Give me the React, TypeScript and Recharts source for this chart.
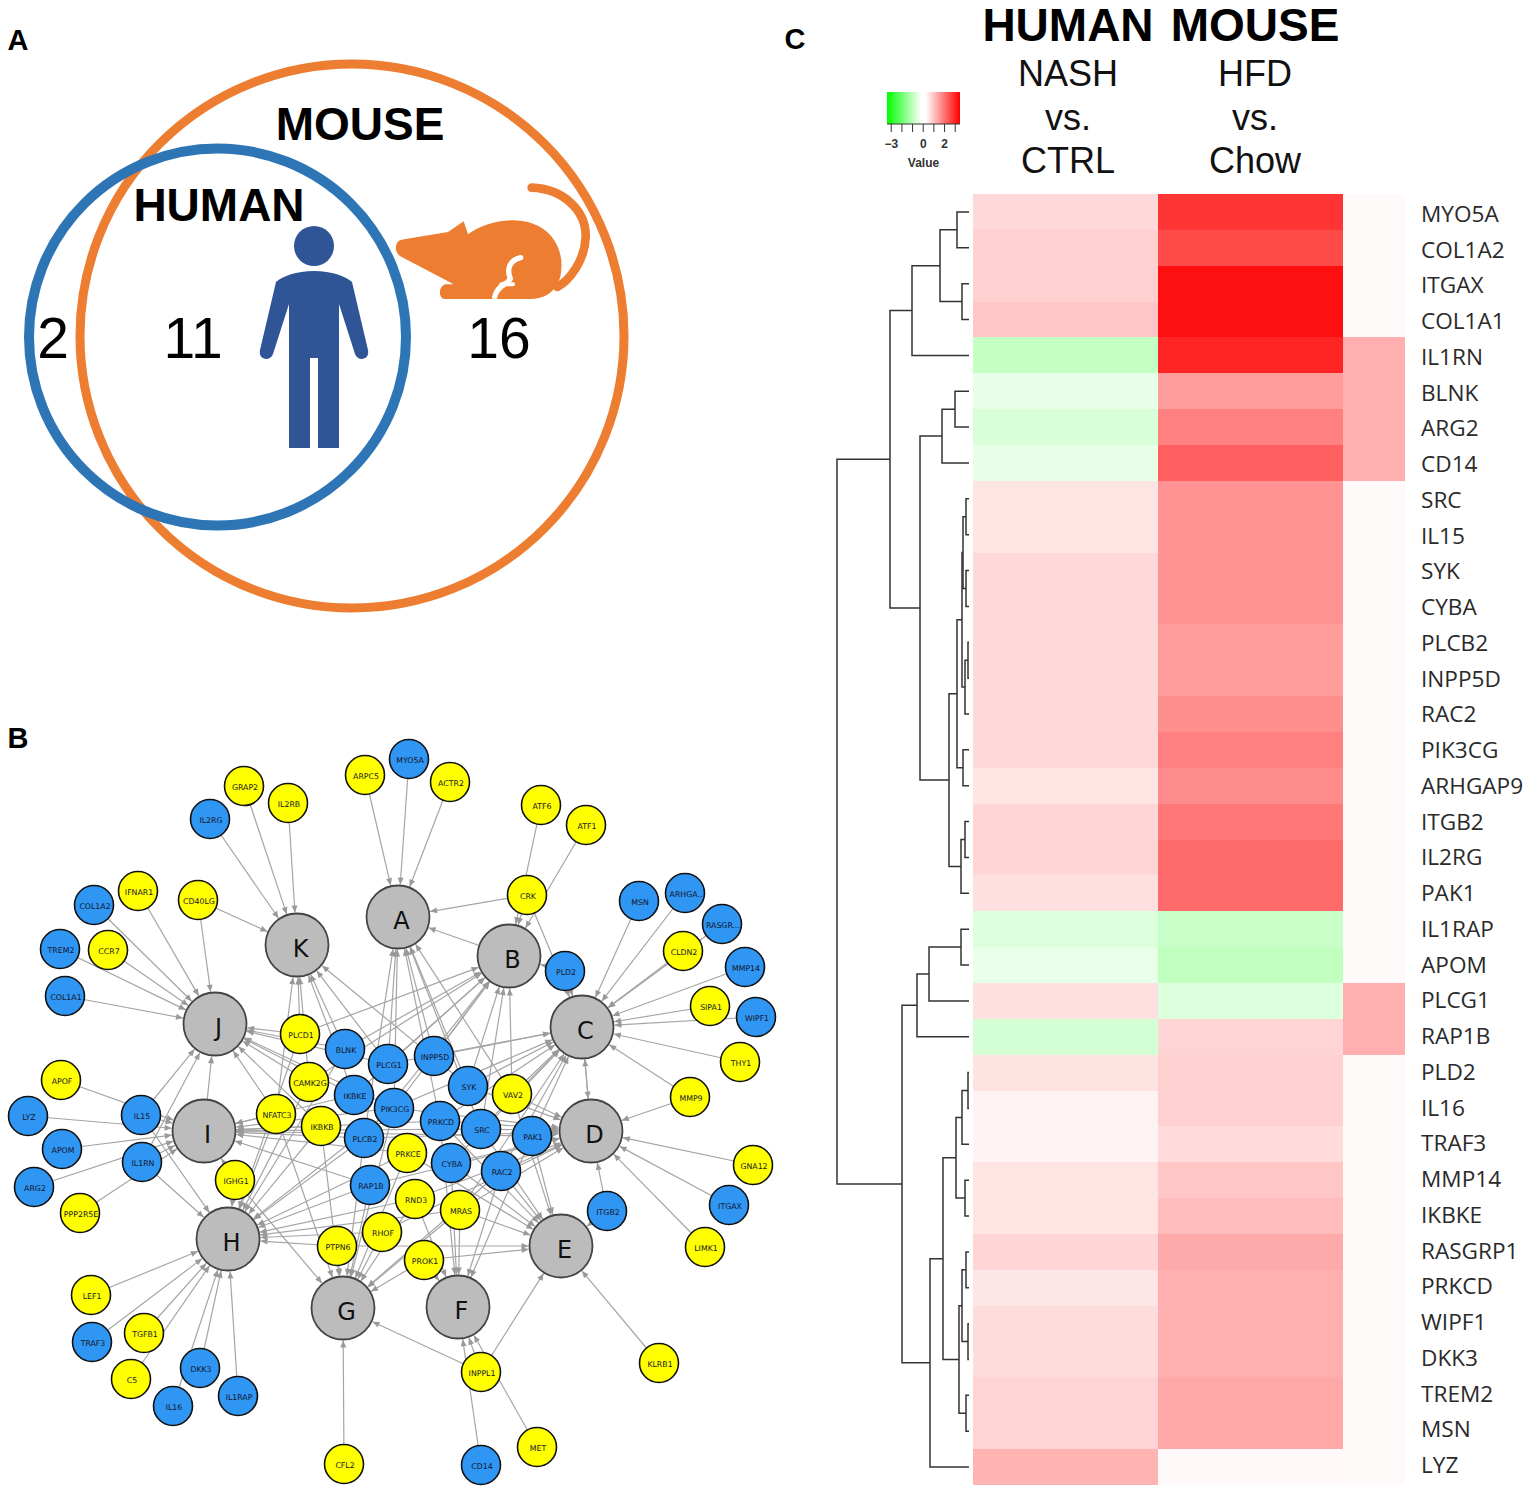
import { Bar, BarChart, Cell, Scatter, ScatterChart, XAxis, YAxis } from "recharts";

// panel C rows, in heatmap order
const genes = [
  "MYO5A", "COL1A2", "ITGAX", "COL1A1", "IL1RN", "BLNK", "ARG2", "CD14", "SRC", "IL15", "SYK", "CYBA",
  "PLCB2", "INPP5D", "RAC2", "PIK3CG", "ARHGAP9", "ITGB2", "IL2RG", "PAK1", "IL1RAP", "APOM", "PLCG1", "RAP1B",
  "PLD2", "IL16", "TRAF3", "MMP14", "IKBKE", "RASGRP1", "PRKCD", "WIPF1", "DKK3", "TREM2", "MSN", "LYZ",
];
const nashValues = [
  0.52, 0.64, 0.64, 0.78, -0.81, -0.35, -0.52, -0.35, 0.37, 0.37, 0.52, 0.52,
  0.52, 0.52, 0.52, 0.52, 0.37, 0.57, 0.57, 0.43, -0.48, -0.32, 0.43, -0.59,
  0.4, 0.18, 0.18, 0.37, 0.37, 0.57, 0.35, 0.48, 0.48, 0.59, 0.59, 1.03,
];
const hfdValues = [
  2.77, 2.48, 3.28, 3.28, 3.0, 1.36, 1.75, 2.2, 1.5, 1.5, 1.5, 1.5,
  1.36, 1.36, 1.54, 1.75, 1.58, 1.87, 2.04, 2.04, -0.76, -0.86, -0.48, 0.59,
  0.64, 0.64, 0.5, 0.78, 0.92, 1.17, 1.1, 1.1, 1.1, 1.2, 1.2, 0.08,
];
const extraValues = [
  0.07, 0.07, 0.07, 0.07, 1.1, 1.1, 1.1, 1.1, 0.07, 0.07, 0.07, 0.07,
  0.07, 0.07, 0.07, 0.07, 0.07, 0.07, 0.07, 0.07, 0.07, 0.07, 1.1, 1.1,
  0.07, 0.07, 0.07, 0.07, 0.07, 0.07, 0.07, 0.07, 0.07, 0.07, 0.07, 0.07,
];
const columnWidths = [185, 185, 62];

// dendrogram: [merge height, left child, right child], a plain number is a row index
const rowTree = [837,
  [890,
    [912, [940, [957, 0, 1], [962, 2, 3]], 4],
    [920,
      [942, [955, 5, 6], 7],
      [949,
        [957,
          [962, [963, [966, 8, 9], [966, 10, 11]], [965, [968, 12, 13], 14]],
          [963, 15, 16]],
        [961, [965, 17, 18], 19]]]],
  [902,
    [917, [929, [961, 20, 21], 22], 23],
    [930,
      [943,
        [956, [962, [968, 24, 25], 26], [965, 27, 28]],
        [959, [962, [966, 29, 30], [968, 31, 32]], [966, 33, 34]]],
      35]],
];

const legendRange = [-3.4, 3.45];
const legendTicks = [-3, -2, -1, 0, 1, 2, 3];
const legendTickLabels = { "-3": "−3", "0": "0", "2": "2" };

// panel B network
const hubs = [
  ["A", 398, 917], ["B", 509, 956], ["C", 582, 1027], ["D", 591, 1131], ["E", 561, 1246], ["F", 458, 1307],
  ["G", 343, 1308], ["H", 228, 1239], ["I", 204, 1131], ["J", 215, 1024], ["K", 297, 945],
];
const yellowGenes = [
  ["GRAP2", 244, 786], ["IL2RB", 288, 803], ["ARPC5", 365, 775], ["ACTR2", 450, 782], ["ATF6", 541, 805],
  ["ATF1", 586, 825], ["CRK", 527, 895], ["CLDN2", 683, 951], ["SIPA1", 710, 1006], ["THY1", 740, 1062],
  ["MMP9", 690, 1097], ["GNA12", 753, 1165], ["LIMK1", 705, 1247], ["KLRB1", 659, 1363], ["MET", 537, 1447],
  ["CFL2", 344, 1464], ["INPPL1", 481, 1372], ["IFNAR1", 138, 891], ["CD40LG", 198, 900], ["CCR7", 108, 950],
  ["APOF", 61, 1080], ["PPP2R5E", 80, 1213], ["IGHG1", 235, 1180], ["LEF1", 91, 1295], ["TGFB1", 144, 1333],
  ["C5", 131, 1379], ["PTPN6", 337, 1246], ["PLCD1", 300, 1034], ["VAV2", 512, 1094], ["CAMK2G", 309, 1082],
  ["NFATC3", 276, 1114], ["IKBKB", 321, 1126], ["PRKCE", 407, 1153], ["RND3", 415, 1199], ["MRAS", 460, 1210],
  ["RHOF", 382, 1232], ["PROK1", 424, 1260],
];
const blueGenes = [
  ["IL2RG", 210, 819], ["MYO5A", 409, 759], ["MSN", 639, 901], ["ARHGA..", 685, 893], ["RASGR...", 722, 924],
  ["PLD2", 565, 971], ["MMP14", 745, 967], ["WIPF1", 756, 1017], ["ITGAX", 729, 1205], ["ITGB2", 607, 1211],
  ["CD14", 481, 1465], ["COL1A2", 94, 905], ["TREM2", 60, 949], ["COL1A1", 65, 996], ["LYZ", 28, 1116],
  ["IL15", 141, 1115], ["APOM", 62, 1149], ["IL1RN", 142, 1162], ["ARG2", 34, 1187], ["TRAF3", 92, 1342],
  ["DKK3", 200, 1368], ["IL16", 173, 1406], ["IL1RAP", 238, 1396], ["BLNK", 345, 1049], ["PLCG1", 388, 1064],
  ["INPP5D", 434, 1056], ["SYK", 468, 1086], ["IKBKE", 354, 1095], ["PIK3CG", 394, 1108], ["PLCB2", 364, 1138],
  ["PRKCD", 440, 1121], ["SRC", 481, 1129], ["PAK1", 532, 1136], ["CYBA", 451, 1163], ["RAC2", 501, 1171],
  ["RAP1B", 370, 1185],
];
// gene, then the letters of the hubs it points at
const geneTargets = [
  ["GRAP2", "K"], ["IL2RB", "K"], ["IL2RG", "K"], ["ARPC5", "A"], ["MYO5A", "A"], ["ACTR2", "A"], ["ATF6", "B"],
  ["ATF1", "B"], ["CRK", "ABC"], ["PLD2", "BC"], ["MSN", "C"], ["ARHGA..", "C"], ["RASGR...", "C"], ["CLDN2", "C"],
  ["MMP14", "C"], ["SIPA1", "C"], ["WIPF1", "C"], ["THY1", "C"], ["MMP9", "CD"], ["GNA12", "D"], ["ITGAX", "D"],
  ["LIMK1", "D"], ["KLRB1", "E"], ["ITGB2", "DE"], ["MET", "F"], ["CD14", "F"], ["INPPL1", "EFG"], ["CFL2", "G"],
  ["IFNAR1", "J"], ["COL1A2", "J"], ["CD40LG", "JK"], ["TREM2", "J"], ["CCR7", "J"], ["COL1A1", "J"], ["APOF", "I"],
  ["LYZ", "I"], ["IL15", "IJH"], ["APOM", "I"], ["IL1RN", "IJH"], ["ARG2", "I"], ["PPP2R5E", "I"], ["IGHG1", "IHG"],
  ["LEF1", "H"], ["TRAF3", "H"], ["TGFB1", "H"], ["C5", "H"], ["DKK3", "H"], ["IL16", "H"], ["IL1RAP", "H"],
  ["PTPN6", "HGE"], ["PLCD1", "JKBH"], ["BLNK", "JKBH"], ["PLCG1", "JKABC"], ["INPP5D", "ABC"],
  ["SYK", "ABCDK"], ["VAV2", "ABCDE"], ["CAMK2G", "JKBH"], ["IKBKE", "JKBI"], ["PIK3CG", "ABCDGHIJ"],
  ["NFATC3", "JIHGK"], ["IKBKB", "IHGJ"], ["PLCB2", "IHGABD"], ["PRKCD", "IDACEF"], ["SRC", "IDABCE"],
  ["PAK1", "DCEFI"], ["PRKCE", "IHGE"], ["CYBA", "DCEF"], ["RAC2", "DCGFE"], ["RAP1B", "IHGD"],
  ["RND3", "HGFD"], ["MRAS", "HGFECD"], ["RHOF", "HGD"], ["PROK1", "EFG"], ["B", "A"], ["C", "D"], ["D", "C"], ["I", "J"],
];

// panel A
const vennMouse = [{ x: 352, y: 336, r: 272 }];
const vennHuman = [{ x: 217.5, y: 337, r: 188.5 }];
const vennCounts = [["2", 53, 338], ["11", 193, 338], ["16", 499, 338]];
const vennNames = [["MOUSE", 360, 124], ["HUMAN", 219, 205]];
const personIcon = [{ x: 314, y: 246 }];
const mouseIcon = [{ x: 397, y: 247 }];

const panelLetters = [["A", 18, 40], ["B", 18, 738], ["C", 795, 39]];
const speciesTitles = [["HUMAN", 1068, 25], ["MOUSE", 1255, 25]];
const contrastTitles = [
  ["NASH", 1068, 73], ["vs.", 1068, 117], ["CTRL", 1068, 160],
  ["HFD", 1255, 73], ["vs.", 1255, 117], ["Chow", 1255, 160],
];

const SANS = "'Liberation Sans', Arial, sans-serif";
const PAGE_W = 1528;
const PAGE_H = 1492;
const SMALL_R = 19.5;
const HUB_R = 31.5;
const EDGE = "#a5a5a5";

const heatColor = (v: number) => {
  const t = Math.min(Math.abs(v) / 3.5, 1);
  const c = Math.round(255 * (1 - t));
  return v >= 0 ? `rgb(255,${c},${c})` : `rgb(${c},255,${c})`;
};

const heatRows = genes.map((gene, i) => ({
  gene,
  nashW: columnWidths[0],
  hfdW: columnWidths[1],
  extraW: columnWidths[2],
  nash: nashValues[i],
  hfd: hfdValues[i],
  extra: extraValues[i],
}));

// walks the tree, returns the y of the node and pushes its bracket
type Seg = { x: number; y: number }[];
const LEAF_X = 969;
function walkTree(node: any, out: Seg[]): { x: number; y: number } {
  if (typeof node === "number") return { x: LEAF_X, y: node + 0.5 };
  const [h, l, r] = node;
  const a = walkTree(l, out);
  const b = walkTree(r, out);
  out.push([
    { x: a.x, y: a.y },
    { x: h, y: a.y },
    { x: h, y: b.y },
    { x: b.x, y: b.y },
  ]);
  return { x: h, y: (a.y + b.y) / 2 };
}
const treeSegments: Seg[] = [];
walkTree(rowTree, treeSegments);

const toPoints = (rows: any[]) => rows.map(([label, x, y]) => ({ label, x, y }));
const nodeIndex: Record<string, { x: number; y: number; r: number }> = {};
hubs.forEach(([n, x, y]: any) => (nodeIndex[n] = { x, y, r: HUB_R }));
[...yellowGenes, ...blueGenes].forEach(([n, x, y]: any) => (nodeIndex[n] = { x, y, r: SMALL_R }));

const edges = geneTargets.flatMap(([source, targets]) =>
  targets.split("").map((target) => {
    const s = nodeIndex[source];
    const t = nodeIndex[target];
    const angle = Math.atan2(t.y - s.y, t.x - s.x);
    const end = {
      x: t.x - Math.cos(angle) * (t.r + 1),
      y: t.y - Math.sin(angle) * (t.r + 1),
      angle,
      head: true,
    };
    return [{ x: s.x, y: s.y }, end];
  })
);

const ArrowHead = (props: any) => {
  const { cx, cy, payload } = props;
  if (!payload?.head) return <g />;
  return (
    <polygon
      points="0,0 -7,-3 -7,3"
      fill="#999999"
      transform={`translate(${cx},${cy}) rotate(${(payload.angle * 180) / Math.PI})`}
    />
  );
};

const noMark = () => <g />;

const Ring = (color: string, width: number) => (props: any) => (
  <circle cx={props.cx} cy={props.cy} r={props.payload.r} fill="none" stroke={color} strokeWidth={width} />
);

const GeneNode = (fill: string) => (props: any) => (
  <g>
    <circle cx={props.cx} cy={props.cy} r={SMALL_R} fill={fill} stroke="#111" strokeWidth={1.6} />
    <text
      x={props.cx + 1}
      y={props.cy + 1}
      textAnchor="middle"
      dominantBaseline="central"
      fontFamily="'DejaVu Sans'"
      fontSize={7.8}
      fill="#14142a"
    >
      {props.payload.label}
    </text>
  </g>
);

const HubNode = (props: any) => (
  <g>
    <circle cx={props.cx} cy={props.cy} r={HUB_R} fill="#bcbcbc" stroke="#444" strokeWidth={1.8} />
    <text
      x={props.cx + 3.5}
      y={props.cy + 4}
      textAnchor="middle"
      dominantBaseline="central"
      fontFamily="'DejaVu Sans'"
      fontSize={24}
      fill="#111"
    >
      {props.payload.label}
    </text>
  </g>
);

const Caption = (fontSize: number, fontWeight: string | number, fill = "#000") => (props: any) => (
  <text
    x={props.cx}
    y={props.cy}
    textAnchor="middle"
    dominantBaseline="central"
    fontFamily={SANS}
    fontSize={fontSize}
    fontWeight={fontWeight}
    fill={fill}
  >
    {props.payload.label}
  </text>
);

const PersonGlyph = (props: any) => (
  <g transform={`translate(${props.cx - 314},${props.cy - 246})`} fill="#2f5597">
    <circle cx={314} cy={246} r={20} />
    <path d="M314 271 C296 271 283 276 276 282 L260 350 C258 360 270 362 273 354 L289 304 L289 448 L310 448 L310 358 L318 358 L318 448 L339 448 L339 304 L355 354 C358 362 370 360 368 350 L352 282 C345 276 332 271 314 271 Z" />
  </g>
);

const MouseGlyph = (props: any) => (
  <g transform={`translate(${props.cx},${props.cy}) scale(0.3333) translate(-412,-560)`}>
    <path
      fill="#ed7d31"
      d="M425 538 L565 515 L612 483 L625 522 C680 480 760 470 820 490 C880 510 910 570 905 625 C903 650 900 660 893 668 C880 700 850 716 810 716 L556 716 C535 716 535 675 560 672 L582 672 L422 588 C402 575 405 543 425 538 Z"
    />
    <path
      fill="none"
      stroke="#ed7d31"
      strokeWidth={26}
      strokeLinecap="round"
      d="M816 382 C910 385 980 450 978 530 C976 600 930 660 893 680"
    />
    <path
      fill="none"
      stroke="#fff"
      strokeWidth={16}
      strokeLinecap="round"
      d="M783 592 C750 600 740 625 752 655 C745 672 712 675 705 710"
    />
    <path fill="none" stroke="#fff" strokeWidth={12} strokeLinecap="round" d="M760 672 L725 672" />
  </g>
);

const hiddenAxes = (xDomain: number[], yDomain: number[]) => [
  <XAxis key="x" type="number" dataKey="x" domain={xDomain} hide allowDataOverflow />,
  <YAxis key="y" type="number" dataKey="y" domain={yDomain} reversed hide allowDataOverflow />,
];

export default function App() {
  return (
    <div style={{ position: "absolute", left: 0, top: 0, width: PAGE_W, height: PAGE_H, background: "#fff" }}>
      <div style={{ position: "absolute", left: 0, top: 0 }}>
        <ScatterChart width={PAGE_W} height={PAGE_H} margin={{ top: 0, right: 0, bottom: 0, left: 0 }}>
          {hiddenAxes([0, PAGE_W], [0, PAGE_H])}
          <Scatter data={vennMouse} shape={Ring("#ed7d31", 9)} isAnimationActive={false} />
          <Scatter data={vennHuman} shape={Ring("#2e75b6", 10)} isAnimationActive={false} />
          <Scatter data={personIcon} shape={PersonGlyph} isAnimationActive={false} />
          <Scatter data={mouseIcon} shape={MouseGlyph} isAnimationActive={false} />
          <Scatter data={toPoints(vennCounts)} shape={Caption(57, 400)} isAnimationActive={false} />
          <Scatter data={toPoints(vennNames)} shape={Caption(46, 700)} isAnimationActive={false} />
          <Scatter data={toPoints(panelLetters)} shape={Caption(29, 700)} isAnimationActive={false} />
          <Scatter data={toPoints(speciesTitles)} shape={Caption(46, 700)} isAnimationActive={false} />
          <Scatter data={toPoints(contrastTitles)} shape={Caption(36, 400, "#111")} isAnimationActive={false} />
          {edges.map((pts, i) => (
            <Scatter
              key={i}
              data={pts}
              line={{ stroke: EDGE, strokeWidth: 1.2 }}
              lineType="joint"
              shape={ArrowHead}
              isAnimationActive={false}
            />
          ))}
          <Scatter data={toPoints(yellowGenes)} shape={GeneNode("#ffff00")} isAnimationActive={false} />
          <Scatter data={toPoints(blueGenes)} shape={GeneNode("#2f96f3")} isAnimationActive={false} />
          <Scatter data={toPoints(hubs)} shape={HubNode} isAnimationActive={false} />
        </ScatterChart>
      </div>

      <div style={{ position: "absolute", left: 830, top: 194 }}>
        <ScatterChart width={143} height={1291} margin={{ top: 0, right: 0, bottom: 0, left: 0 }}>
          {hiddenAxes([830, 973], [0, genes.length])}
          {treeSegments.map((pts, i) => (
            <Scatter
              key={i}
              data={pts}
              line={{ stroke: "#333", strokeWidth: 1.5 }}
              lineType="joint"
              shape={noMark}
              isAnimationActive={false}
            />
          ))}
        </ScatterChart>
      </div>

      <div style={{ position: "absolute", left: 973, top: 194 }}>
        <BarChart
          width={432}
          height={1291}
          data={heatRows}
          layout="vertical"
          barCategoryGap={0}
          margin={{ top: 0, right: 0, bottom: 0, left: 0 }}
        >
          <XAxis type="number" domain={[0, 432]} hide />
          <YAxis type="category" dataKey="gene" hide />
          <Bar dataKey="nashW" stackId="h" isAnimationActive={false} shapeRendering="crispEdges">
            {heatRows.map((r) => (
              <Cell key={r.gene} fill={heatColor(r.nash)} />
            ))}
          </Bar>
          <Bar dataKey="hfdW" stackId="h" isAnimationActive={false} shapeRendering="crispEdges">
            {heatRows.map((r) => (
              <Cell key={r.gene} fill={heatColor(r.hfd)} />
            ))}
          </Bar>
          <Bar dataKey="extraW" stackId="h" isAnimationActive={false} shapeRendering="crispEdges">
            {heatRows.map((r) => (
              <Cell key={r.gene} fill={heatColor(r.extra)} />
            ))}
          </Bar>
        </BarChart>
      </div>

      {/* the row labels sit on a slightly tighter pitch than the cells */}
      <div style={{ position: "absolute", left: 973, top: 196 }}>
        <BarChart
          width={PAGE_W - 973}
          height={1287}
          data={heatRows}
          layout="vertical"
          barCategoryGap={0}
          margin={{ top: 0, right: 0, bottom: 0, left: 0 }}
        >
          <XAxis type="number" domain={[0, 432]} hide />
          <YAxis
            type="category"
            dataKey="gene"
            orientation="right"
            width={123}
            interval={0}
            axisLine={false}
            tickLine={false}
            tickSize={0}
            tickMargin={16}
            tick={{ fontFamily: "'Open Sans'", fontSize: 22.6, fill: "#2a2a2a" }}
          />
          <Bar dataKey="nashW" fill="none" isAnimationActive={false} />
        </BarChart>
      </div>

      <div style={{ position: "absolute", left: 867, top: 92 }}>
        <BarChart
          width={113}
          height={84}
          layout="vertical"
          barCategoryGap={0}
          data={[{ name: "Value", span: legendRange }]}
          margin={{ top: 0, right: 20, bottom: 0, left: 20 }}
        >
          <defs>
            <linearGradient id="legendRamp" x1="0" y1="0" x2="1" y2="0">
              <stop offset="0%" stopColor="#00ff00" />
              <stop offset="47%" stopColor="#ffffff" />
              <stop offset="53%" stopColor="#ffffff" />
              <stop offset="100%" stopColor="#ff0000" />
            </linearGradient>
          </defs>
          <XAxis
            type="number"
            domain={legendRange}
            ticks={legendTicks}
            interval={0}
            height={52}
            tickSize={8}
            tickMargin={7}
            stroke="#333"
            tickFormatter={(v: number) => legendTickLabels[String(v)] ?? ""}
            tick={{ fontFamily: SANS, fontSize: 12, fontWeight: 700, fill: "#333" }}
            label={{
              value: "Value",
              position: "insideBottom",
              offset: 9,
              style: { fontFamily: SANS, fontSize: 12, fontWeight: 700, fill: "#333" },
            }}
          />
          <YAxis type="category" dataKey="name" hide />
          <Bar dataKey="span" fill="url(#legendRamp)" isAnimationActive={false} />
        </BarChart>
      </div>
    </div>
  );
}
